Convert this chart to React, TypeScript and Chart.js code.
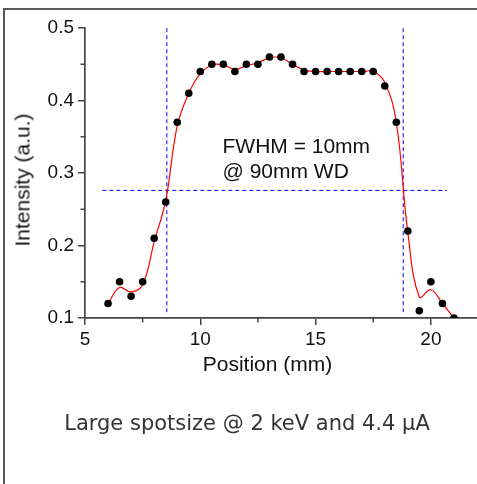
import React, { useEffect, useRef } from 'react';
import { Chart, registerables } from 'chart.js';

Chart.register(...registerables);

// Measured points
const POSITIONS = [6, 6.5, 7, 7.5, 8, 8.5, 9, 9.5, 10, 10.5, 11, 11.5, 12, 12.5, 13, 13.5, 14, 14.5, 15, 15.5, 16, 16.5, 17, 17.5, 18, 18.5, 19, 19.5, 20, 20.5, 21];
const INTENSITY = [0.12, 0.15, 0.13, 0.15, 0.21, 0.26, 0.37, 0.41, 0.44, 0.45, 0.45, 0.44, 0.45, 0.45, 0.46, 0.46, 0.45, 0.44, 0.44, 0.44, 0.44, 0.44, 0.44, 0.44, 0.42, 0.37, 0.22, 0.11, 0.15, 0.12, 0.10];

// Fitted (red) curve
const FIT_X = [6, 6.5, 7, 7.5, 8, 8.5, 9, 9.5, 10, 10.5, 11, 11.5, 12, 12.5, 13, 13.5, 14, 14.5, 15, 15.5, 16, 16.5, 17, 17.5, 18, 18.5, 19, 19.5, 20, 20.5, 21];
const FIT_Y = [0.12, 0.142, 0.136, 0.146, 0.205, 0.262, 0.365, 0.41, 0.437, 0.449, 0.449, 0.443, 0.448, 0.452, 0.459, 0.459, 0.45, 0.442, 0.44, 0.44, 0.44, 0.44, 0.44, 0.44, 0.425, 0.37, 0.218, 0.129, 0.139, 0.12, 0.1];

// FWHM guide lines
const FWHM_LEFT = 8.55;
const FWHM_RIGHT = 18.8;
const HALF_MAX = 0.276;
const VLINE_Y = [0.108, 0.5];
const HLINE_X = [5.75, 20.7];

// Axes
const X_MIN = 5;
const X_MAX = 22;
const X_STEP = 5;
const Y_MIN = 0.1;
const Y_MAX = 0.5;
const Y_STEP = 0.1;
const X_MINOR = [7.5, 12.5, 17.5];
const Y_MINOR = [0.15, 0.25, 0.35, 0.45];

const X_TITLE = 'Position (mm)';
const Y_TITLE = 'Intensity (a.u.)';
const NOTE_LINES = ['FWHM = 10mm', '@ 90mm WD'];
const CAPTION = 'Large spotsize @ 2 keV and 4.4 μA';

const AXIS_COLOR = '#444';
const SANS = "'Liberation Sans', Arial, Helvetica, sans-serif";

const minorTicks = {
  id: 'minorTicks',
  afterDraw(chart: any) {
    const { ctx, scales, chartArea } = chart;
    const x = scales.x;
    const y = scales.y;
    ctx.save();
    ctx.strokeStyle = AXIS_COLOR;
    ctx.lineWidth = 1.5;
    for (const v of Y_MINOR) {
      const py = y.getPixelForValue(v);
      ctx.beginPath();
      ctx.moveTo(chartArea.left - 4.5, py);
      ctx.lineTo(chartArea.left, py);
      ctx.stroke();
    }
    for (const v of X_MINOR) {
      const px = x.getPixelForValue(v);
      ctx.beginPath();
      ctx.moveTo(px, chartArea.bottom);
      ctx.lineTo(px, chartArea.bottom + 4.5);
      ctx.stroke();
    }
    ctx.restore();
  },
};

function ChartCanvas() {
  const ref = useRef<HTMLCanvasElement | null>(null);
  useEffect(() => {
    if (!ref.current) return;
    const dashed = {
      borderColor: '#0000ff',
      borderWidth: 1,
      borderDash: [4, 3],
      pointRadius: 0,
      tension: 0,
      showLine: true,
      fill: false,
      order: 3,
    };
    const chart = new Chart(ref.current, {
      type: 'scatter',
      data: {
        datasets: [
          {
            label: 'data',
            data: POSITIONS.map((p, i) => ({ x: p, y: INTENSITY[i] })),
            backgroundColor: '#000',
            borderColor: '#000',
            pointRadius: 3.8,
            pointBorderWidth: 0,
            showLine: false,
            order: 0,
          },
          {
            label: 'fit',
            data: FIT_X.map((p, i) => ({ x: p, y: FIT_Y[i] })),
            borderColor: '#ff0000',
            borderWidth: 1.2,
            pointRadius: 0,
            showLine: true,
            tension: 0.4,
            fill: false,
            order: 1,
          },
          { ...dashed, label: 'left', data: VLINE_Y.map((v) => ({ x: FWHM_LEFT, y: v })) },
          { ...dashed, label: 'right', data: VLINE_Y.map((v) => ({ x: FWHM_RIGHT, y: v })) },
          { ...dashed, label: 'half', data: HLINE_X.map((v) => ({ x: v, y: HALF_MAX })) },
        ] as any,
      },
      options: {
        animation: false,
        responsive: false,
        devicePixelRatio: 1,
        layout: { autoPadding: false, padding: { left: 0, right: 0, top: 28, bottom: 106 } },
        plugins: { legend: { display: false }, tooltip: { enabled: false } },
        scales: {
          x: {
            type: 'linear',
            min: X_MIN,
            max: X_MAX,
            afterFit: (s: any) => {
              s.height = 60;
            },
            border: { display: true, color: AXIS_COLOR, width: 1.7 },
            grid: { display: true, drawOnChartArea: false, drawTicks: true, tickLength: 7, color: AXIS_COLOR, lineWidth: 1.5 },
            ticks: {
              stepSize: X_STEP,
              includeBounds: false,
              padding: 3,
              color: '#111',
              font: { family: SANS, size: 19 },
              maxRotation: 0,
              autoSkip: false,
            },
          },
          y: {
            type: 'linear',
            min: Y_MIN,
            max: Y_MAX,
            afterFit: (s: any) => {
              s.width = 85;
            },
            border: { display: true, color: AXIS_COLOR, width: 1.7 },
            grid: { display: true, drawOnChartArea: false, drawTicks: true, tickLength: 7, color: AXIS_COLOR, lineWidth: 1.5 },
            ticks: {
              stepSize: Y_STEP,
              padding: 4,
              color: '#111',
              font: { family: SANS, size: 19 },
              callback: (v: any) => Number(v).toFixed(1),
              autoSkip: false,
            },
          },
        },
      } as any,
      plugins: [minorTicks],
    });
    return () => chart.destroy();
  }, []);
  return <canvas ref={ref} width={477} height={484} style={{ position: 'absolute', left: 0, top: 0, width: 477, height: 484 }} />;
}

export default function App() {
  return (
    <div style={{ position: 'fixed', left: 0, top: 0, width: 477, height: 484, background: '#fff', overflow: 'hidden' }}>
      <div
        style={{
          position: 'absolute',
          left: 3,
          top: 8,
          width: 600,
          height: 600,
          borderLeft: '2px solid #5a5a5a',
          borderTop: '2px solid #5a5a5a',
        }}
      />
      <ChartCanvas />
      <div
        style={{
          position: 'absolute',
          left: 22,
          top: 179.5,
          transform: 'translate(-50%, -50%) rotate(-90deg)',
          whiteSpace: 'nowrap',
          fontFamily: SANS,
          fontSize: 21,
          lineHeight: '21px',
          color: '#111',
        }}
      >
        {Y_TITLE}
      </div>
      <div
        style={{
          position: 'absolute',
          left: 267.5,
          top: 363,
          transform: 'translate(-50%, -50%)',
          whiteSpace: 'nowrap',
          fontFamily: SANS,
          fontSize: 21,
          lineHeight: '21px',
          color: '#111',
        }}
      >
        {X_TITLE}
      </div>
      <div
        style={{
          position: 'absolute',
          left: 222.5,
          top: 132.5,
          whiteSpace: 'nowrap',
          fontFamily: SANS,
          fontSize: 21,
          lineHeight: '25px',
          color: '#111',
        }}
      >
        {NOTE_LINES.map((t) => (
          <div key={t}>{t}</div>
        ))}
      </div>
      <div
        style={{
          position: 'absolute',
          left: 247,
          top: 411,
          transform: 'translateX(-50%)',
          whiteSpace: 'nowrap',
          fontFamily: "'DejaVu Sans', sans-serif",
          fontSize: 21,
          lineHeight: '24px',
          color: '#333',
        }}
      >
        {CAPTION}
      </div>
    </div>
  );
}
